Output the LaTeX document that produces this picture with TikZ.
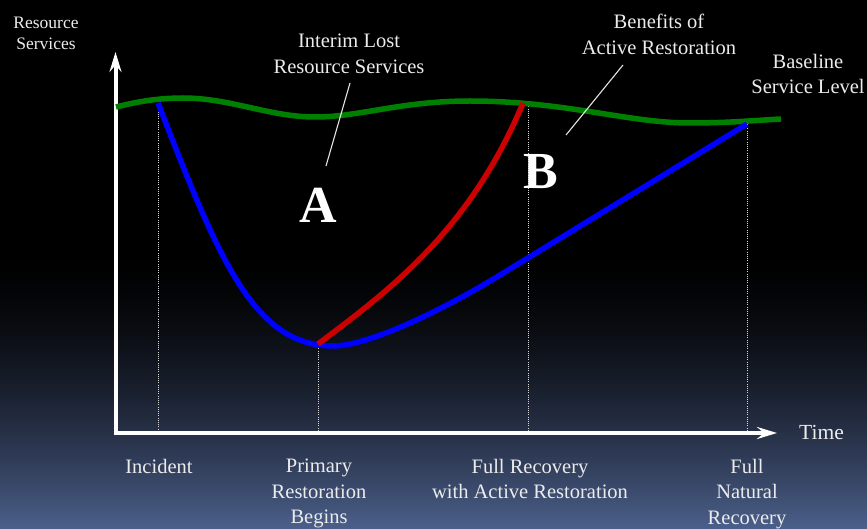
\documentclass[tikz,border=0pt]{standalone}
\usepackage{fontspec}
\setmainfont{Liberation Serif}
\usetikzlibrary{arrows.meta}
\definecolor{cbot}{RGB}{76,96,140}
\definecolor{txt}{RGB}{236,236,236}
\definecolor{cgreen}{RGB}{0,128,0}
\definecolor{cblue}{RGB}{0,0,255}
\definecolor{cred}{RGB}{204,0,0}
\tikzset{
  axis/.style={white, line width=4pt, -{Stealth[length=20pt,width=12pt,inset=7pt]}},
  guide/.style={white!85!black, line width=0.9pt, dash pattern=on 1pt off 1.2pt},
  curve/.style={line width=5.5pt, line join=round},
  leader/.style={white!90!black, line width=1.1pt},
  lbl/.style={text=txt, align=center, inner sep=0pt, font=\fontsize{20.5}{25.5}\selectfont},
  big/.style={text=white, inner sep=0pt, font=\fontsize{52}{52}\selectfont\bfseries}
}
\begin{document}
\begin{tikzpicture}[x=1pt,y=-1pt]
\useasboundingbox (0,0) rectangle (867,529);
% background
\fill[black] (0,0) rectangle (867,529);
\foreach \i in {0,...,93}{
  \pgfmathsetmacro\p{100*(\i/93)^1.6}
  \fill[cbot!\p!black] (0,250+3*\i) rectangle (867,254+3*\i);
}
% key points
\coordinate (inc) at (158,103);
\coordinate (prim) at (318,344);
\coordinate (bmin) at (333,346);
\coordinate (bmid) at (500,275);
\coordinate (fra) at (528,102);
\coordinate (fnr) at (747,124);
\coordinate (redend) at (523,103);
\coordinate (inc0) at (158,433);
\coordinate (prim0) at (318,433);
\coordinate (fra0) at (528,433);
\coordinate (fnr0) at (747,433);
% guides
\draw[guide] (inc) -- (inc0);
\draw[guide] (prim) -- (prim0);
\draw[guide] (fra) -- (fra0);
\draw[guide] (fnr) -- (fnr0);
% axes
\coordinate (ytop) at (115.5,52);
\coordinate (xend) at (777,433);
\draw[axis] (115.5,435) -- (ytop);
\draw[axis] (113.5,433) -- (xend);
% curves
\draw[curve, cgreen] (116,107) .. controls (140,101) and (160,98) .. (183,98)
  .. controls (230,98) and (270,117) .. (315,117)
  .. controls (360,117) and (400,101) .. (470,101)
  .. controls (565,101) and (628,123) .. (690,123)
  .. controls (730,123) and (760,120) .. (781,119);
\draw[curve, cblue] (inc) .. controls (218,257) and (253,346) .. (bmin)
  .. controls (368,346) and (440,311.7) .. (bmid) -- (fnr);
\draw[curve, cred] (prim) .. controls (390,290) and (470,230) .. (redend);
% labels
\node[lbl, anchor=north, font=\fontsize{17.5}{21}\selectfont] (rs) at (46,17) {Resource\\Services};
\node[lbl, anchor=north] (ilrs) at (349,34) {Interim Lost\\Resource Services};
\node[lbl, anchor=north] (bar) at (659,14) {Benefits of\\Active Restoration};
\node[lbl, anchor=north] (bsl) at (808,54) {Baseline\\Service Level};
\node[big] (A) at (318,205) {A};
\node[big] (B) at (541,172) {B};
\node[lbl, anchor=base west, font=\fontsize{21.5}{25}\selectfont] (time) at (799,439) {Time};
\node[lbl, anchor=north] (tinc) at (159,459) {Incident};
\node[lbl, anchor=north] (tprim) at (319,459) {Primary\\Restoration\\Begins};
\node[lbl, anchor=north] (tfra) at (530,459) {Full Recovery\\with Active Restoration};
\node[lbl, anchor=north] (tfnr) at (747,459) {Full\\Natural\\Recovery};
% leaders
\coordinate (l1a) at (350,83);
\coordinate (l1b) at (326,166);
\coordinate (l2a) at (623,65);
\coordinate (l2b) at (566,135);
\draw[leader] (l1a) -- (l1b);
\draw[leader] (l2a) -- (l2b);
\end{tikzpicture}
\end{document}
